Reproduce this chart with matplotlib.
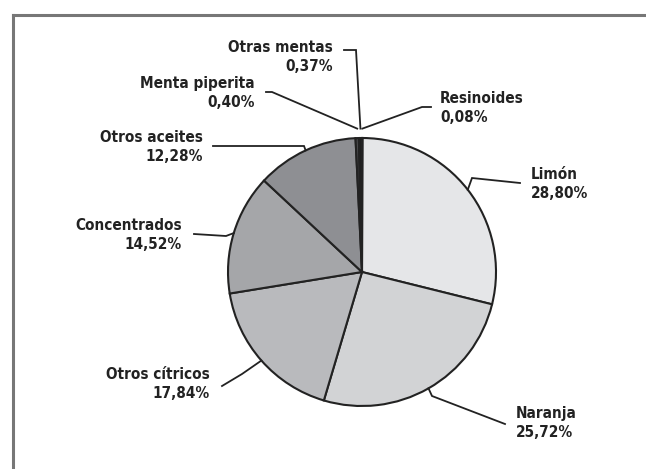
import numpy as np
import matplotlib
matplotlib.use("Agg")
import matplotlib.pyplot as plt
from matplotlib.lines import Line2D
from matplotlib import font_manager

names = {f.name for f in font_manager.fontManager.ttflist}
narrow = 'Liberation Sans Narrow' if 'Liberation Sans Narrow' in names else 'DejaVu Sans'
plt.rcParams['font.family'] = [narrow, 'DejaVu Sans']

labels = ["Resinoides", "Limón", "Naranja", "Otros cítricos", "Concentrados",
          "Otros aceites", "Menta piperita", "Otras mentas"]
values = [0.08, 28.80, 25.72, 17.84, 14.52, 12.28, 0.40, 0.37]
pct_text = ["0,08%", "28,80%", "25,72%", "17,84%", "14,52%", "12,28%", "0,40%", "0,37%"]
colors = ["#3a3a3c", "#e5e6e8", "#d2d3d5", "#b9babd", "#a5a6a9", "#8e8f93", "#4a4a4c", "#1e1e1e"]

W, H = 646, 469
CX, CY, R = 362, 272, 134  # pie centre / radius in pixels

def px(x, y):
    # pixel position -> data units (radius = 1)
    return (x - CX) / R, (CY - y) / R

fig = plt.figure(figsize=(W / 100, H / 100), dpi=100)
ax = fig.add_axes([0, 0, 1, 1])

wedges, _ = ax.pie(values, colors=colors, startangle=90, counterclock=False,
                   radius=1, wedgeprops=dict(edgecolor="#222222", linewidth=1.5))
ax.set_aspect('auto')
ax.set_xlim(-CX / R, (W - CX) / R)
ax.set_ylim(-(H - CY) / R, CY / R)
ax.axis('off')

# label text anchor (pixels), alignment, leader elbow and end (pixels)
layout = {
    "Resinoides":     ((440, 91), 'left', (422, 107), (431, 107)),
    "Limón":          ((531, 167), 'left', (472, 178), (520, 183)),
    "Naranja":        ((516, 406), 'left', (432, 396), (505, 424)),
    "Otros cítricos": ((210, 367), 'right', (242, 374), (222, 386)),
    "Concentrados":   ((182, 218), 'right', (226, 236), (194, 234)),
    "Otros aceites":  ((203, 130), 'right', (304, 146), (213, 146)),
    "Menta piperita": ((255, 76), 'right', (272, 92), (266, 92)),
    "Otras mentas":   ((333, 40), 'right', (356, 50), (344, 50)),
}

fs = dict(fontstretch='condensed') if narrow == 'DejaVu Sans' else {}
for w, lab, pct in zip(wedges, labels, pct_text):
    ang = np.deg2rad((w.theta1 + w.theta2) / 2)
    ex, ey = np.cos(ang), np.sin(ang)
    if lab in ("Resinoides", "Menta piperita", "Otras mentas"):
        ey = 1.07
    (tx, ty), ha, elbow, end = layout[lab]
    bx, by = px(*elbow)
    qx, qy = px(*end)
    ax.plot([ex, bx, qx], [ey, by, qy], color="#222222", lw=1.3,
            solid_joinstyle='miter')
    x0, y0 = px(tx, ty)
    ax.text(x0, y0, lab + "\n" + pct, ha=ha, va='top', fontsize=11,
            fontweight='bold', color="#222222", linespacing=1.3,
            multialignment=ha, **fs)

# frame (top and left edges visible)
fig.add_artist(Line2D([13 / W, 1], [1 - 15 / H, 1 - 15 / H], color="#777777", lw=2.2))
fig.add_artist(Line2D([13 / W, 13 / W], [0, 1 - 15 / H], color="#777777", lw=2.2))

fig.savefig("out.png", dpi=100)
